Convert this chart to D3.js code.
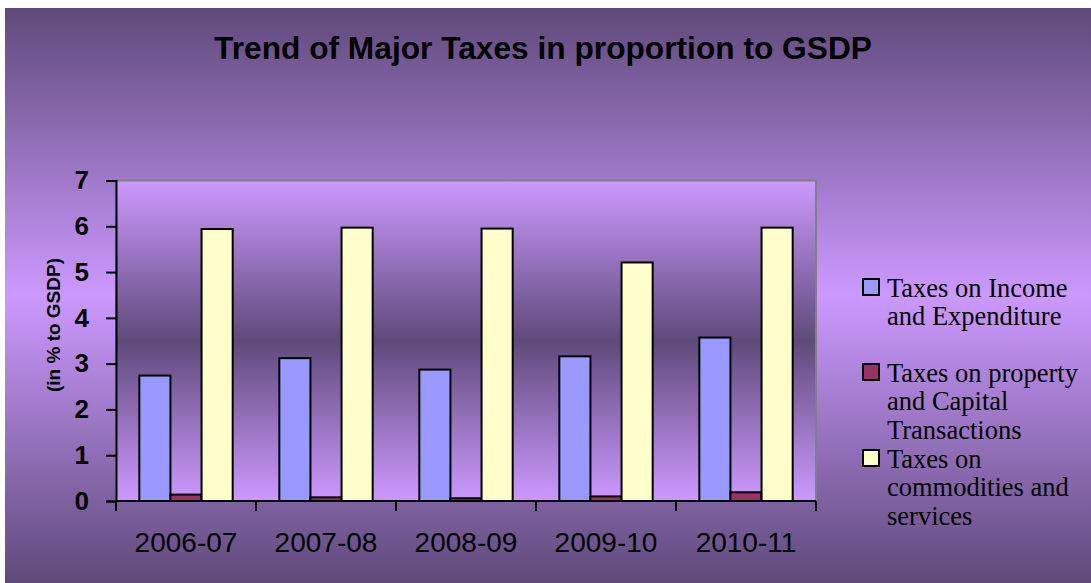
<!DOCTYPE html>
<html>
<head>
<meta charset="utf-8">
<script src="https://cdn.jsdelivr.net/npm/d3@7"></script>
<style>
  body { margin: 0; background: #ffffff; }
  svg { display: block; }
</style>
</head>
<body>
<svg id="chart" width="1091" height="583"></svg>
<script>
// data
var years = ["2006-07", "2007-08", "2008-09", "2009-10", "2010-11"];
var seriesNames = ["Taxes on Income and Expenditure",
                   "Taxes on property and Capital Transactions",
                   "Taxes on commodities and services"];
var incomeExp = [2.74, 3.12, 2.87, 3.16, 3.57];
var propertyCap = [0.14, 0.08, 0.06, 0.10, 0.19];
var commodities = [5.94, 5.97, 5.95, 5.21, 5.97];
var yTicks = [0, 1, 2, 3, 4, 5, 6, 7];

// legend lines as wrapped in the picture
var legendLines = [
  ["Taxes on Income", "and Expenditure"],
  ["Taxes on property", "and Capital", "Transactions"],
  ["Taxes on", "commodities and", "services"]
];
var colors = ["#9999ff", "#993366", "#ffffcc"];

var svg = d3.select("#chart");
var W = 1091, H = 583;

var margins = { top: 180.5, bottom: 82, left: 116, right: 275 };
var plotW = W - margins.left - margins.right;
var plotH = H - margins.top - margins.bottom;

var defs = svg.append("defs");
var outerGrad = defs.append("linearGradient")
    .attr("id", "outerGrad").attr("x1", 0).attr("y1", 0).attr("x2", 0).attr("y2", 1);
outerGrad.append("stop").attr("offset", "0%").attr("stop-color", "#5f4a7a");
outerGrad.append("stop").attr("offset", "50%").attr("stop-color", "#cc99ff");
outerGrad.append("stop").attr("offset", "100%").attr("stop-color", "#5f4a7a");

var plotGrad = defs.append("linearGradient")
    .attr("id", "plotGrad").attr("x1", 0).attr("y1", 0).attr("x2", 0).attr("y2", 1);
plotGrad.append("stop").attr("offset", "0%").attr("stop-color", "#cc99ff");
plotGrad.append("stop").attr("offset", "50%").attr("stop-color", "#5f4a7a");
plotGrad.append("stop").attr("offset", "100%").attr("stop-color", "#cc99ff");

// chart area background
svg.append("rect")
    .attr("x", 5).attr("y", 8)
    .attr("width", W - 5).attr("height", H - 8)
    .attr("fill", "url(#outerGrad)");

// title
svg.append("text")
    .attr("x", 543).attr("y", 59)
    .attr("text-anchor", "middle")
    .style("font-family", "Arial, 'Liberation Sans', sans-serif")
    .style("font-weight", "bold")
    .style("font-size", "31.7px")
    .text("Trend of Major Taxes in proportion to GSDP");

var g = svg.append("g")
    .attr("transform", "translate(" + margins.left + "," + margins.top + ")");

g.append("rect")
    .attr("width", plotW).attr("height", plotH)
    .attr("fill", "url(#plotGrad)")
    .attr("stroke", "#808080")
    .attr("stroke-width", 2);

var x0 = d3.scaleBand()
    .domain(years)
    .range([0, plotW])
    .paddingInner(1 / 3)
    .paddingOuter(1 / 6);

var x1 = d3.scaleBand()
    .domain(d3.range(3))
    .range([0, x0.bandwidth()]);

var y = d3.scaleLinear()
    .domain([0, 7])
    .range([plotH, 0]);

var rows = years.map(function(yr, i) {
  return { year: yr, values: [incomeExp[i], propertyCap[i], commodities[i]] };
});

var groups = g.selectAll(".grp")
    .data(rows)
    .enter().append("g")
    .attr("class", "grp")
    .attr("transform", function(d) { return "translate(" + x0(d.year) + ",0)"; });

groups.selectAll("rect")
    .data(function(d) { return d.values.map(function(v, k) { return { k: k, v: v }; }); })
    .enter().append("rect")
    .attr("x", function(d) { return x1(d.k); })
    .attr("width", x1.bandwidth())
    .attr("y", function(d) { return y(d.v); })
    .attr("height", function(d) { return plotH - y(d.v); })
    .attr("fill", function(d) { return colors[d.k]; })
    .attr("stroke", "#000")
    .attr("stroke-width", 2);

// y axis
var yAxis = d3.axisLeft(y)
    .tickValues(yTicks)
    .tickFormat(d3.format("d"))
    .tickSize(10)
    .tickPadding(17);
var ya = g.append("g").call(yAxis);
ya.select(".domain").attr("stroke", "#000").attr("stroke-width", 2);
ya.selectAll(".tick line").attr("stroke", "#000").attr("stroke-width", 2);
ya.selectAll(".tick text")
    .attr("fill", "#000")
    .style("font-family", "Arial, 'Liberation Sans', sans-serif")
    .style("font-weight", "bold")
    .style("font-size", "26px");

// x axis: ticks on category boundaries
var xa = g.append("g").attr("transform", "translate(0," + plotH + ")");
xa.append("line")
    .attr("x1", 0).attr("x2", plotW)
    .attr("stroke", "#000").attr("stroke-width", 2);
xa.selectAll(".xt")
    .data(d3.range(years.length + 1))
    .enter().append("line")
    .attr("class", "xt")
    .attr("x1", function(i) { return i * x0.step(); })
    .attr("x2", function(i) { return i * x0.step(); })
    .attr("y1", 0).attr("y2", 10)
    .attr("stroke", "#000").attr("stroke-width", 2);
xa.selectAll(".xl")
    .data(years)
    .enter().append("text")
    .attr("class", "xl")
    .attr("x", function(d) { return x0(d) + x0.bandwidth() / 2; })
    .attr("y", 51)
    .attr("text-anchor", "middle")
    .style("font-family", "Arial, 'Liberation Sans', sans-serif")
    .style("font-size", "28px")
    .text(function(d) { return d; });

// y axis title
svg.append("text")
    .attr("transform", "translate(60,325) rotate(-90)")
    .attr("text-anchor", "middle")
    .style("font-family", "Arial, 'Liberation Sans', sans-serif")
    .style("font-weight", "bold")
    .style("font-size", "19px")
    .text("(in % to GSDP)");

// legend
var legendTop = [279, 364, 450];
var leg = svg.append("g");
legendLines.forEach(function(lines, k) {
  leg.append("rect")
      .attr("x", 863).attr("y", legendTop[k])
      .attr("width", 16).attr("height", 16)
      .attr("fill", colors[k])
      .attr("stroke", "#000").attr("stroke-width", 2);
  var t = leg.append("text")
      .attr("x", 887).attr("y", legendTop[k] + 17.5)
      .style("font-family", "'Times New Roman', 'Liberation Serif', serif")
      .style("font-size", "26.5px");
  lines.forEach(function(line, j) {
    t.append("tspan")
        .attr("x", 887)
        .attr("dy", j === 0 ? 0 : 28.6)
        .text(line);
  });
});
</script>
</body>
</html>
